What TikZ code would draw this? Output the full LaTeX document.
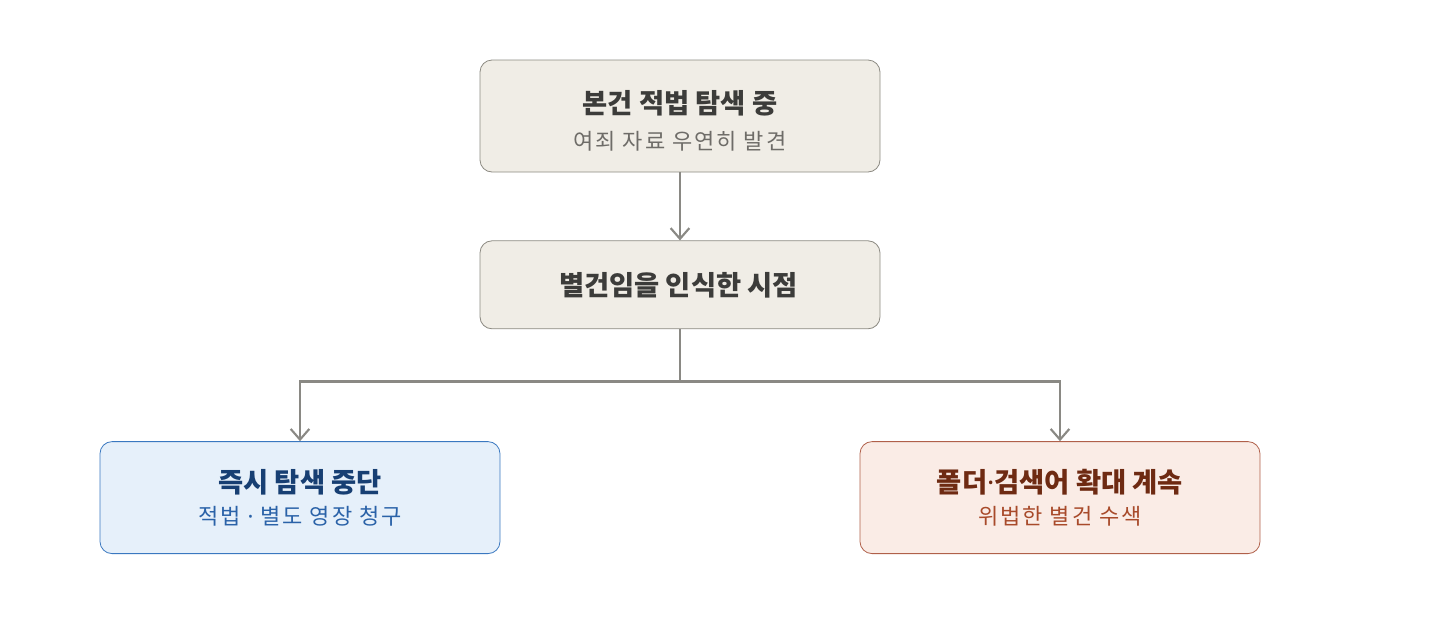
\documentclass[tikz,border=0pt]{standalone}
\usepackage{fontspec}
\setmainfont{Noto Sans CJK KR}
\newfontfamily\subfont[LetterSpace=9]{Noto Sans CJK KR}
\newfontfamily\dotfont{Noto Sans}
\usetikzlibrary{positioning,arrows.meta}
\definecolor{stagefill}{HTML}{F0EDE6}
\definecolor{stageline}{HTML}{8C8A82}
\definecolor{stagetitle}{HTML}{3C3C3A}
\definecolor{stagesub}{HTML}{6E6C68}
\definecolor{stopfill}{HTML}{E6F0FA}
\definecolor{stopline}{HTML}{3A78C0}
\definecolor{stoptitle}{HTML}{173F73}
\definecolor{stopsub}{HTML}{2A62A8}
\definecolor{goonfill}{HTML}{FAECE6}
\definecolor{goonline}{HTML}{B0604A}
\definecolor{goontitle}{HTML}{6E2A12}
\definecolor{goonsub}{HTML}{A84A2A}
\definecolor{linkline}{HTML}{8A8984}
\tikzstyle{stage}=[rectangle, draw=stageline, rounded corners=9pt, fill=stagefill, line width=0.6pt,
        text centered, align=center, minimum width=300pt, text=stagetitle]
\tikzstyle{stop}=[stage, draw=stopline, fill=stopfill, text=stoptitle]
\tikzstyle{goon}=[stage, draw=goonline, fill=goonfill, text=goontitle]
\tikzstyle{link}=[draw=linkline, line width=2pt, -{Straight Barb[length=8pt,width=14pt,line width=1.6pt]}]
\newcommand{\boxtitle}[1]{{\fontsize{20.5}{24}\selectfont\bfseries #1}}
\newcommand{\boxsub}[1]{{\fontsize{16.5}{19}\subfont #1}}
\newcommand{\middot}{{\dotfont ·}}

\begin{document}
\begin{tikzpicture}[x=0.75pt, y=-0.75pt, node distance=51pt]
        \useasboundingbox (0,0) rectangle (1440,640);
        \node (found) [stage, minimum height=84pt] at (680,116)
        {
          \rule{0pt}{25pt}\boxtitle{본건 적법 탐색 중}\\[10.5pt]
          \boxsub{\color{stagesub}여죄 자료 우연히 발견}
        };
        \node (aware) [stage, minimum height=66pt, below=of found]
        {
          \boxtitle{별건임을 인식한 시점}
        };
        \node (halt) [stop, minimum height=84pt, below=84pt of aware, xshift=-285pt]
        {
          \boxtitle{즉시 탐색 중단}\\[7pt]
          \boxsub{\color{stopsub}적법 \middot{} 별도 영장 청구}
        };
        \node (widen) [goon, minimum height=84pt, below=84pt of aware, xshift=285pt]
        {
          \boxtitle{폴더\middot{}검색어 확대 계속}\\[7pt]
          \boxsub{\color{goonsub}위법한 별건 수색}
        };
        \draw[link] (found) -- (aware);
        \draw[link] (aware.south) -- ++(0,52) -| (halt.north);
        \draw[link] (aware.south) -- ++(0,52) -| (widen.north);
      \end{tikzpicture}
\end{document}
